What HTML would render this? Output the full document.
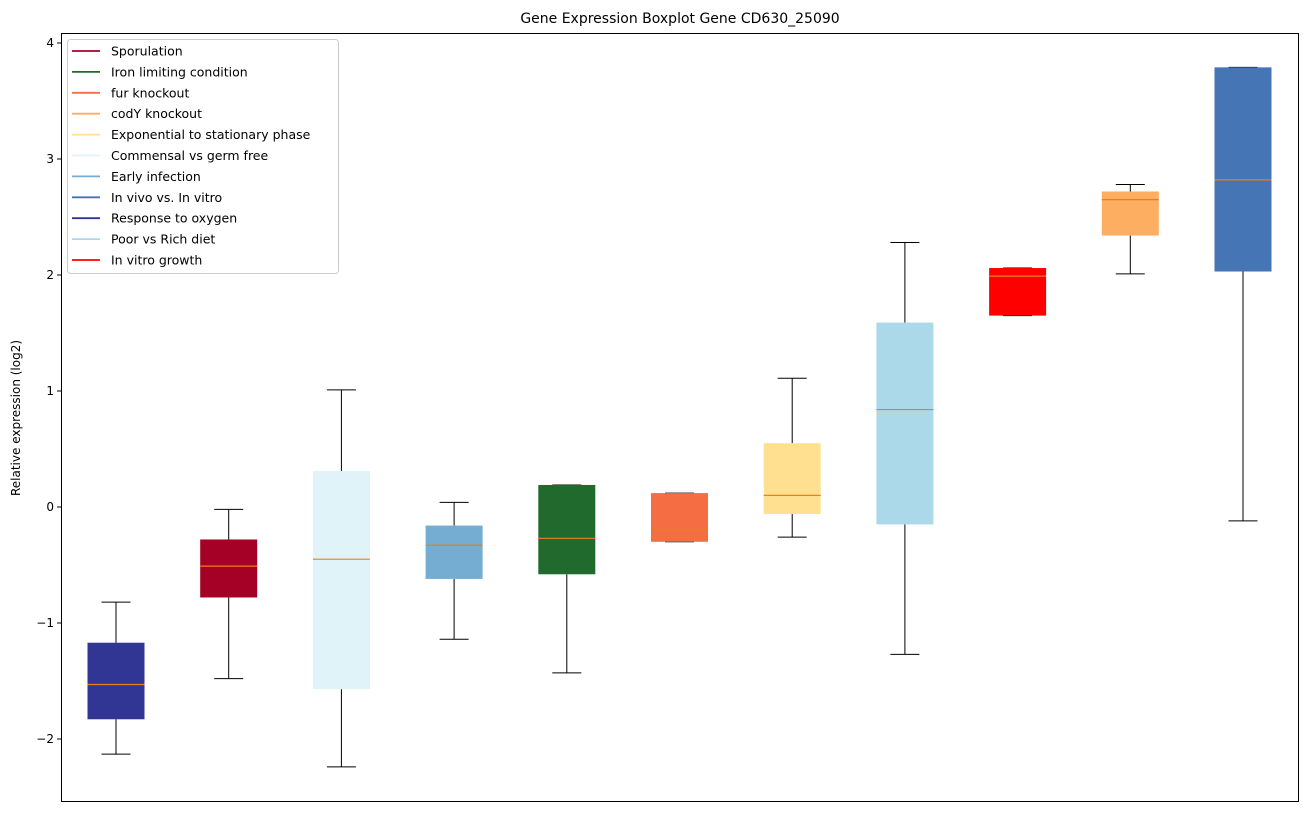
<!DOCTYPE html>
<html><head><meta charset="utf-8"><style>
body{margin:0;background:#fff;font-family:"Liberation Sans","DejaVu Sans",sans-serif;}
</style></head><body>
<svg id="chart" width="1309" height="812" xmlns="http://www.w3.org/2000/svg" font-family="'DejaVu Sans','Liberation Sans',sans-serif">
<rect x="0" y="0" width="1309" height="812" fill="#fff"/>
<text x="680" y="23" text-anchor="middle" font-size="14">Gene Expression Boxplot Gene CD630_25090</text>
<text transform="translate(20,418) rotate(-90)" text-anchor="middle" font-size="12">Relative expression (log2)</text>
<g id="marks"></g>
<g id="yaxis"></g>
<rect x="61.5" y="33.5" width="1237" height="768" fill="none" stroke="#000" stroke-width="1"/>
<g id="legend"></g>
</svg>
<script>
const categories=["Response to oxygen","Sporulation","Commensal vs germ free","Early infection","Iron limiting condition","fur knockout","Exponential to stationary phase","Poor vs Rich diet","In vitro growth","codY knockout","In vivo vs. In vitro"];
const whiskerLow=[-2.13,-1.48,-2.24,-1.14,-1.43,-0.30,-0.26,-1.27,1.65,2.01,-0.12];
const q1=[-1.83,-0.78,-1.57,-0.62,-0.58,-0.30,-0.06,-0.15,1.65,2.34,2.03];
const medians=[-1.53,-0.51,-0.45,-0.33,-0.27,-0.20,0.10,0.84,1.99,2.65,2.82];
const q3=[-1.17,-0.28,0.31,-0.16,0.19,0.12,0.55,1.59,2.06,2.72,3.79];
const whiskerHigh=[-0.82,-0.02,1.01,0.04,0.19,0.12,1.11,2.28,2.06,2.78,3.79];
const colors=["#313695","#a50026","#e0f3f8","#74add1","#216a2d","#f46d43","#fee090","#abd9e9","#ff0000","#fdae61","#4575b4"];
const yTicks=[-2,-1,0,1,2,3,4];
const legendLabels=["Sporulation","Iron limiting condition","fur knockout","codY knockout","Exponential to stationary phase","Commensal vs germ free","Early infection","In vivo vs. In vitro","Response to oxygen","Poor vs Rich diet","In vitro growth"];
const legendColors=["#a50026","#216a2d","#f46d43","#fdae61","#fee090","#e0f3f8","#74add1","#4575b4","#313695","#abd9e9","#ff0000"];

const NS="http://www.w3.org/2000/svg";
function y(v){return 507-v*116;}
function x(i){return 116+i*112.7;}
function mk(tag,attrs,parent){const e=document.createElementNS(NS,tag);for(const k in attrs)e.setAttribute(k,attrs[k]);parent.appendChild(e);return e;}
const marks=document.getElementById('marks');
const bw=57,cw=29;
categories.forEach((c,i)=>{
  const cx=x(i);
  const g=mk('g',{},marks);
  
  
  let l=mk('line',{x1:cx,x2:cx,y1:y(q3[i]),y2:y(whiskerHigh[i]),stroke:'#000'},g);
  
  
  l=mk('line',{x1:cx,x2:cx,y1:y(q1[i]),y2:y(whiskerLow[i]),stroke:'#000'},g);
  
  
  l=mk('line',{x1:cx-cw/2,x2:cx+cw/2,y1:y(whiskerHigh[i]),y2:y(whiskerHigh[i]),stroke:'#000'},g);
  
  
  l=mk('line',{x1:cx-cw/2,x2:cx+cw/2,y1:y(whiskerLow[i]),y2:y(whiskerLow[i]),stroke:'#000'},g);
  
  
  const r=mk('rect',{x:cx-bw/2,y:y(q3[i]),width:bw,height:Math.max(1,y(q1[i])-y(q3[i])),fill:colors[i]},g);
  
  
  l=mk('line',{x1:cx-bw/2,x2:cx+bw/2,y1:y(medians[i]),y2:y(medians[i]),stroke:'#e8801a','stroke-width':1.2},g);
  
  
});
const ya=document.getElementById('yaxis');
yTicks.forEach(t=>{
  let l=mk('line',{x1:57,x2:61,y1:y(t),y2:y(t),stroke:'#000'},ya);
  
  
  const tx=mk('text',{x:54,y:y(t)+4,'text-anchor':'end','font-size':12},ya);
  tx.textContent=t<0?'\u2212'+Math.abs(t):String(t);
  
  
});
const lg=document.getElementById('legend');
const lb=mk('rect',{x:67.5,y:39.5,width:271,height:234,rx:3,fill:'#fff','fill-opacity':0.8,stroke:'#ccc'},lg);


legendLabels.forEach((s,i)=>{
  const yy=51+i*20.9;
  const g=mk('g',{},lg);
  
  
  mk('line',{x1:72,x2:100,y1:yy,y2:yy,stroke:legendColors[i],'stroke-width':1.8},g);
  const t=mk('text',{x:111,y:yy+4.5,'font-size':12.5},g);
  t.textContent=s;
});
</script>
</body></html>
